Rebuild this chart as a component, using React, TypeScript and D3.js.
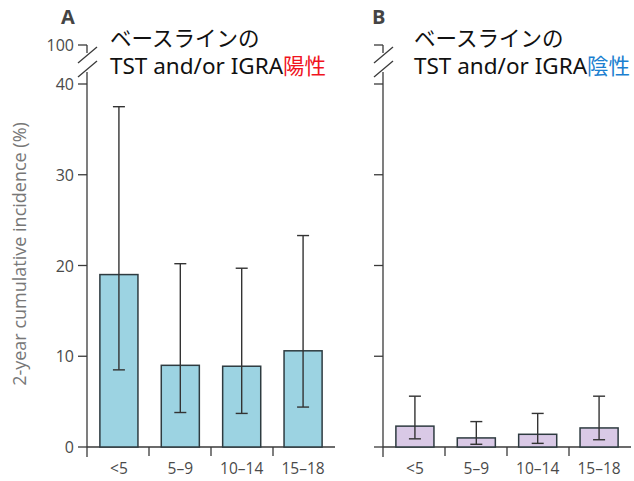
import React, { useRef, useEffect } from "react";
import * as d3 from "d3";

const categories = ["<5", "5–9", "10–14", "15–18"];
const positiveValues = [19.0, 9.0, 8.9, 10.6];
const positiveLow = [8.5, 3.8, 3.7, 4.4];
const positiveHigh = [37.5, 20.2, 19.7, 23.3];
const negativeValues = [2.3, 1.0, 1.4, 2.1];
const negativeLow = [0.9, 0.3, 0.4, 0.8];
const negativeHigh = [5.6, 2.8, 3.7, 5.6];
const yTicks = [0, 10, 20, 30, 40];

const layout = { width: 634, height: 481, top: 84, bottom: 447, bandW: 62 };

export default function App() {
	const ref = useRef<SVGSVGElement>(null);

	useEffect(() => {
		const svg = d3.select(ref.current);
		svg.selectAll("*").remove();

		const yScale = d3.scaleLinear().domain([0, 40]).range([layout.bottom, layout.top]);
		const grey = "#4a4a4a";
		const axisCol = "#3a3a3a";

		const panels = [
			{ letter: "A", axisX: 87, vals: positiveValues, lo: positiveLow, hi: positiveHigh, fill: "#9cd3e2", labels: true, word: "陽性", wordCol: "#f0141e", titleX: 110, letterX: 61 },
			{ letter: "B", axisX: 383, vals: negativeValues, lo: negativeLow, hi: negativeHigh, fill: "#d9c9e6", labels: false, word: "陰性", wordCol: "#1b7fd0", titleX: 414, letterX: 372 },
		];

		panels.forEach(p => {
			const g = svg.append("g");
			const xScale = d3.scaleBand()
				.domain(categories)
				.range([p.axisX, p.axisX + layout.bandW * 4])
				.paddingInner(0.38)
				.paddingOuter(0.21);

			// y axis line with break
			g.append("line").attr("x1", p.axisX).attr("x2", p.axisX)
				.attr("y1", 72).attr("y2", layout.bottom + 10)
				.attr("stroke", axisCol).attr("stroke-width", 1.3);
			g.append("line").attr("x1", p.axisX).attr("x2", p.axisX)
				.attr("y1", 45).attr("y2", 53)
				.attr("stroke", axisCol).attr("stroke-width", 1.3);
			[0, 14].forEach(off => {
				g.append("line")
					.attr("x1", p.axisX - 9).attr("y1", 63 + off)
					.attr("x2", p.axisX + 10).attr("y2", 47 + off)
					.attr("stroke", axisCol).attr("stroke-width", 1.3);
			});
			g.append("line").attr("x1", p.axisX - 9).attr("x2", p.axisX)
				.attr("y1", 45).attr("y2", 45)
				.attr("stroke", axisCol).attr("stroke-width", 1.3);

			yTicks.forEach(t => {
				g.append("line").attr("x1", p.axisX - 9).attr("x2", p.axisX)
					.attr("y1", yScale(t)).attr("y2", yScale(t))
					.attr("stroke", axisCol).attr("stroke-width", 1.3);
				if (p.labels) {
					g.append("text").attr("x", p.axisX - 13).attr("y", yScale(t) + 6)
						.attr("text-anchor", "end").attr("font-size", 16)
						.attr("font-family", "Open Sans, sans-serif").attr("fill", grey)
						.text(t);
				}
			});
			if (p.labels) {
				g.append("text").attr("x", p.axisX - 13).attr("y", 51)
					.attr("text-anchor", "end").attr("font-size", 16)
					.attr("font-family", "Open Sans, sans-serif").attr("fill", grey)
					.text("100");
			}

			// x axis
			g.append("line").attr("x1", p.axisX).attr("x2", p.axisX + layout.bandW * 4)
				.attr("y1", layout.bottom).attr("y2", layout.bottom)
				.attr("stroke", axisCol).attr("stroke-width", 1.3);
			d3.range(1, 4).forEach(i => {
				const x = p.axisX + layout.bandW * i;
				g.append("line").attr("x1", x).attr("x2", x)
					.attr("y1", layout.bottom).attr("y2", layout.bottom + 9)
					.attr("stroke", axisCol).attr("stroke-width", 1.3);
			});
			categories.forEach(c => {
				g.append("text")
					.attr("x", (xScale(c) as number) + xScale.bandwidth() / 2)
					.attr("y", layout.bottom + 27)
					.attr("text-anchor", "middle").attr("font-size", 15.5)
					.attr("font-family", "Open Sans, sans-serif").attr("fill", grey)
					.text(c);
			});

			// bars
			g.selectAll(".bar").data(p.vals).join("rect")
				.attr("class", "bar")
				.attr("x", (d, i) => xScale(categories[i]) as number)
				.attr("y", d => yScale(d))
				.attr("width", xScale.bandwidth())
				.attr("height", d => yScale(0) - yScale(d))
				.attr("fill", p.fill)
				.attr("stroke", "#2e3b40").attr("stroke-width", 1.5);

			// error bars
			p.vals.forEach((v, i) => {
				const cx = (xScale(categories[i]) as number) + xScale.bandwidth() / 2;
				const eg = g.append("g").attr("stroke", "#333").attr("stroke-width", 1.4);
				eg.append("line").attr("x1", cx).attr("x2", cx)
					.attr("y1", yScale(p.lo[i])).attr("y2", yScale(p.hi[i]));
				[p.lo[i], p.hi[i]].forEach(e => {
					eg.append("line").attr("x1", cx - 6).attr("x2", cx + 6)
						.attr("y1", yScale(e)).attr("y2", yScale(e));
				});
			});

			// panel letter and title
			g.append("text").attr("x", p.letterX).attr("y", 24)
				.attr("font-size", 20).attr("font-weight", "bold")
				.attr("font-family", "Open Sans, sans-serif").attr("fill", "#444")
				.text(p.letter);
			const titleFont = "Noto Sans, Noto Sans CJK JP, sans-serif";
			g.append("text").attr("x", p.titleX).attr("y", 46)
				.attr("font-size", 21.5).attr("font-family", titleFont).attr("fill", "#111")
				.text("ベースラインの");
			const line2 = g.append("text").attr("x", p.titleX).attr("y", 74)
				.attr("font-size", 21.5).attr("font-family", titleFont).attr("fill", "#111");
			line2.append("tspan").attr("font-size", 22.5).text("TST and/or IGRA");
			line2.append("tspan").attr("fill", p.wordCol).text(p.word);
		});

		svg.append("text")
			.attr("transform", "translate(26, 254) rotate(-90)")
			.attr("text-anchor", "middle").attr("font-size", 18)
			.attr("font-family", "Open Sans, sans-serif").attr("fill", "#777")
			.text("2-year cumulative incidence (%)");
	}, []);

	return (
		<svg ref={ref} width={layout.width} height={layout.height}
			style={{ position: "absolute", left: 0, top: 0, background: "#fff" }} />
	);
}
